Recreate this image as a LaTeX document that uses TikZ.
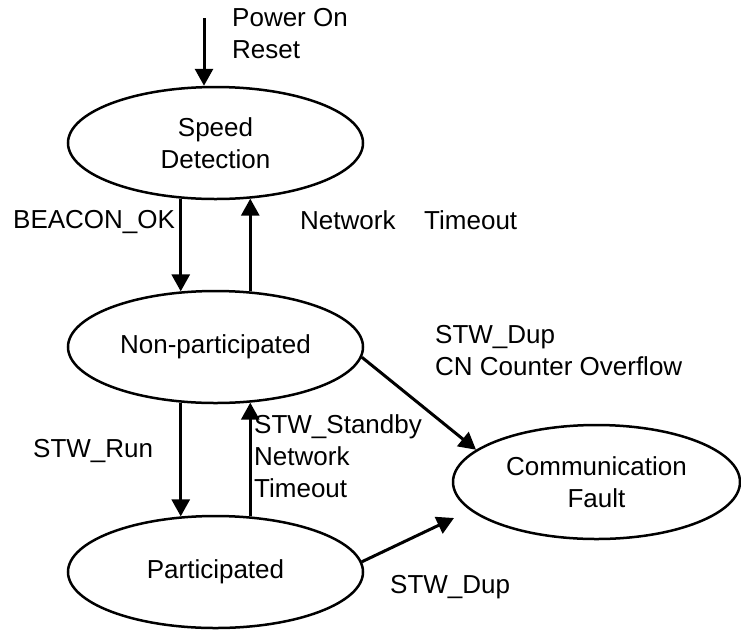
\documentclass[tikz,border=0pt]{standalone}
\usepackage{fontspec}
\setmainfont{Liberation Sans}
\usetikzlibrary{shapes.geometric,arrows.meta}
\newcommand\labfont{\fontsize{26}{32}\selectfont}
\begin{document}
\begin{tikzpicture}[x=1pt,y=-1pt,
  state/.style={ellipse,draw,line width=2.5pt,minimum width=295pt,minimum height=112pt,inner sep=0pt,align=center,font=\labfont},
  tr/.style={line width=3pt,-{Triangle[length=17pt,width=18pt]}},
  lbl/.style={inner sep=0pt,align=left,font=\labfont,anchor=base west}]
\useasboundingbox (0,0) rectangle (741,630);
\node[state] (sd) at (215.5,143) {Speed\\Detection};
\node[state] (np) at (215.5,347) {Non-participated};
\node[state] (p) at (215.5,572) {Participated};
\node[state,minimum width=287pt,minimum height=114pt] (cf) at (596.5,482) {Communication\\Fault};
\coordinate (pw) at (204,18);
\coordinate (dupend) at (454,518);
\draw[tr] (pw) -- (pw |- sd.north);
\draw[tr] (sd.238) -- (np.122);
\draw[tr] (np.58) -- (sd.302);
\draw[tr] (np.238) -- (p.122);
\draw[tr] (p.58) -- (np.302);
\draw[tr] (np.-4) -- (cf.165);
\draw[tr] (p.4) -- (dupend);
\node[lbl] (l1) at (232,58) {Power On\\Reset};
\node[lbl] (l2) at (13,228) {BEACON\_OK};
\node[lbl] (l3) at (300,229) {Network\hspace{28.7pt}Timeout};
\node[lbl] (l4) at (435,375) {STW\_Dup\\CN Counter Overflow};
\node[lbl] (l5) at (33,457) {STW\_Run};
\node[lbl] (l6) at (254,497) {STW\_Standby\\Network\\Timeout};
\node[lbl] (l7) at (390,593) {STW\_Dup};
\end{tikzpicture}
\end{document}
